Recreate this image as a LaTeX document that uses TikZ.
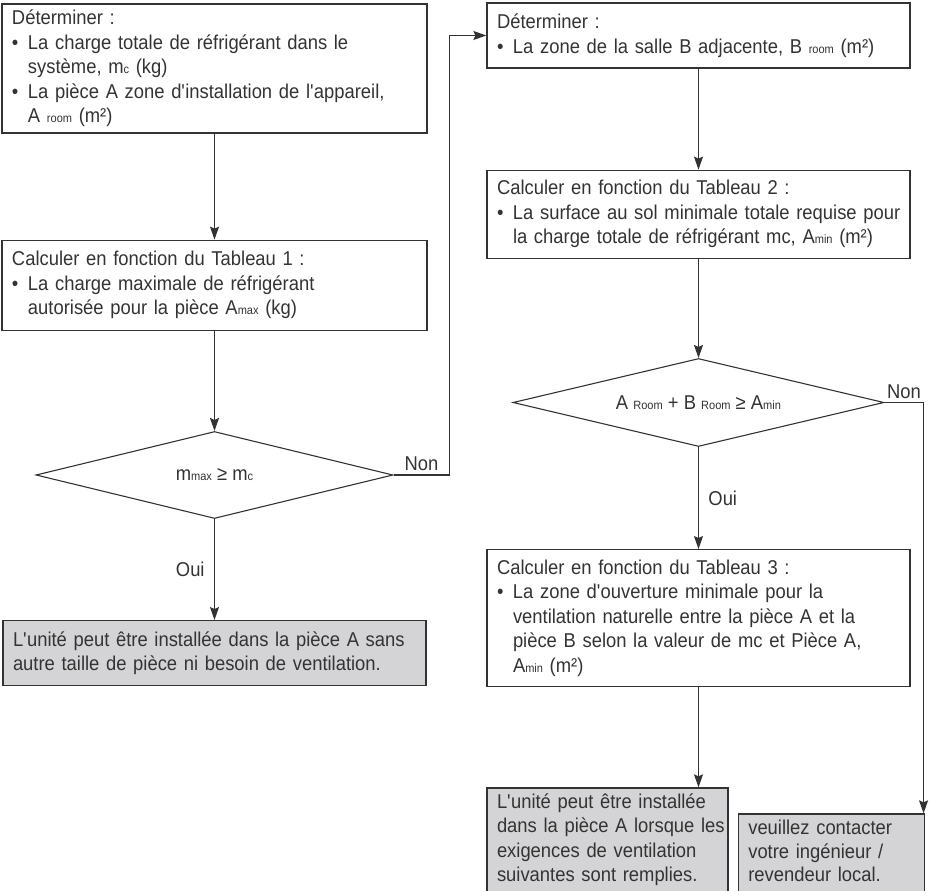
\documentclass[tikz,border=0pt]{standalone}
\usepackage{fontspec}
\setmainfont{Liberation Sans}[FakeStretch=0.92]
\usepackage{xcolor}
\usepackage{tikz}
\usetikzlibrary{arrows.meta,positioning,shapes.geometric}

\definecolor{ink}{HTML}{333333}
\definecolor{shade}{HTML}{D4D4D6}
\newcommand{\sub}[1]{{\fontsize{12}{12}\selectfont #1}}
\newcommand{\bul}[1]{\mbox{\makebox[16pt][l]{\textbullet}#1}}
\newcommand{\ind}[1]{\mbox{\hspace*{16pt}#1}}
\newcommand{\q}{\textquotesingle}
\newcommand{\deep}{\rule[-14pt]{0pt}{14pt}}

\begin{document}
\begin{tikzpicture}[x=1pt,y=1pt,node distance=100pt and 60pt,
 font=\fontsize{20}{24.5}\selectfont,
 box/.style={draw=ink,line width=1.3pt,text=ink,align=left,inner xsep=10pt,inner ysep=3pt},
 endbox/.style={box,fill=shade},
 test/.style={draw=ink,line width=1.1pt,shape=diamond,text=ink,inner sep=0pt},
 arrow/.style={-{Stealth[length=13pt,width=9pt,inset=2pt]},line width=1.2pt,draw=ink},
 lbl/.style={text=ink}]
\useasboundingbox (0,0) rectangle (930,-891);
% left column
\node[box,text width=405pt,minimum height=129pt] (detA) at (214.5,-68.5) {Déterminer :\\
 \bul{La charge totale de réfrigérant dans le}\\
 \ind{système, m\sub{c} (kg)}\\
 \bul{La pièce A zone d\q installation de l\q appareil,}\\
 \ind{A \sub{room} (m²)}};
\node[box,text width=405pt,minimum height=90pt,below=106pt of detA] (calcA) {Calculer en fonction du Tableau 1 :\\
 \bul{La charge maximale de réfrigérant}\\
 \ind{autorisée pour la pièce A\sub{max} (kg)}};
\node[test,aspect=4.1,minimum width=357pt,minimum height=87pt,below=100pt of calcA] (testA) {m\sub{max} ≥ m\sub{c}};
\node[endbox,text width=403pt,minimum height=65pt,below=101pt of testA] (okA) {\mbox{L\q unité peut être installée dans la pièce A sans}\\
 \mbox{autre taille de pièce ni besoin de ventilation.}};
% right column
\node[box,text width=403pt,minimum height=65pt] (detB) at (698.5,-35.5) {Déterminer :\\
 \bul{La zone de la salle B adjacente, B \sub{room} (m²)}};
\node[box,text width=403pt,minimum height=88pt,below=101pt of detB] (calcB) {Calculer en fonction du Tableau 2 :\\
 \bul{La surface au sol minimale totale requise pour}\\
 \ind{la charge totale de réfrigérant mc, A\sub{min} (m²)}};
\node[test,aspect=4.2,minimum width=371pt,minimum height=88pt,below=99pt of calcB] (testB) {A \sub{Room} + B \sub{Room} ≥ A\sub{min}};
\node[box,text width=403pt,minimum height=137pt,below=102pt of testB] (calcC) {Calculer en fonction du Tableau 3 :\\
 \bul{La zone d\q ouverture minimale pour la}\\
 \ind{ventilation naturelle entre la pièce A et la}\\
 \ind{pièce B selon la valeur de mc et Pièce A,}\\
 \ind{A\sub{min} (m²)}};
\node[endbox,text width=221pt,inner ysep=5.5pt,below right=100pt and 0pt of calcC.south west] (okB) {\mbox{L\q unité peut être installée}\\
 \mbox{dans la pièce A lorsque les}\\
 \mbox{exigences de ventilation}\\
 \mbox{suivantes sont remplies.\deep}};
\node[endbox,text width=166pt,inner ysep=6.5pt,font=\fontsize{20}{23.5}\selectfont,below right=26pt and 9pt of okB.north east] (contact) {\mbox{veuillez contacter}\\
 \mbox{votre ingénieur /}\\
 \mbox{revendeur local.\deep}};
% connectors
\draw[arrow] (detA)--(calcA);
\draw[arrow] (calcA)--(testA);
\draw[arrow] (testA)-- node[lbl,left=6pt] {Oui} (okA);
\draw[arrow] (testA.east) -- node[lbl,above] {Non} ++(56pt,0) |- (detB.west);
\draw[arrow] (detB)--(calcB);
\draw[arrow] (calcB)--(testB);
\draw[arrow] (testB)-- node[lbl,right=6pt] {Oui} (calcC);
\draw[arrow] (calcC)--(calcC |- okB.north);
\draw[arrow] (testB.east) -- node[lbl,above] {Non} ++(39pt,0) coordinate (turnB) -- (turnB |- contact.north);
\end{tikzpicture}
\end{document}
